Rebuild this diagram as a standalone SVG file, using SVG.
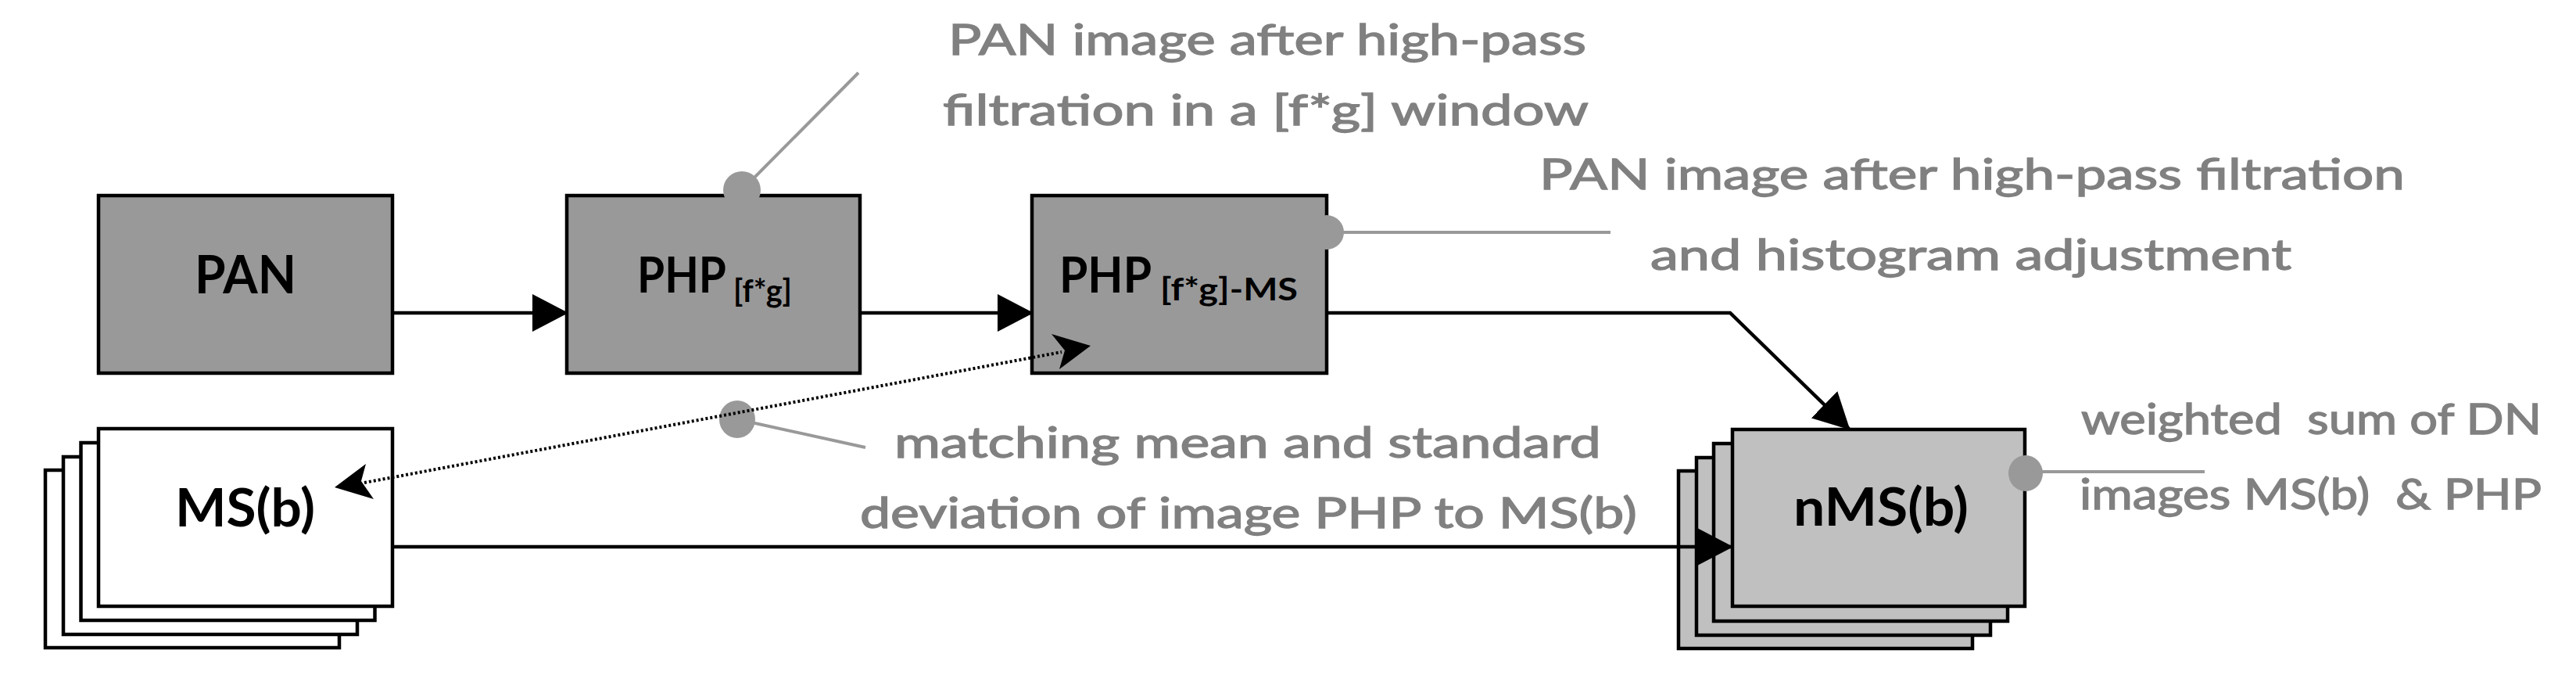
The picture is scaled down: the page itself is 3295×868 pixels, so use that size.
<svg xmlns="http://www.w3.org/2000/svg" width="3295" height="868" viewBox="0 0 3295 868">
<style>
.box{fill:#999999;stroke:#000;stroke-width:4.5}
.wbox{fill:#ffffff;stroke:#000;stroke-width:4.5}
.lbox{fill:#c0c0c0;stroke:#000;stroke-width:4.5}
.lbl{font-family:Lato,"Liberation Sans",sans-serif;font-weight:bold;fill:#000;font-size:66px}
.main{font-size:63px}
.sub{font-size:40px}
.note{font-family:Lato,"Liberation Sans",sans-serif;fill:#808080;stroke:#808080;stroke-width:1.3;font-size:54px;white-space:pre}
.cl{stroke:#999999;stroke-width:4;fill:none}
.cd{fill:#999999}
.conn{stroke:#000;stroke-width:4.5;fill:none}
.dot{stroke:#000;stroke-width:4;fill:none;stroke-dasharray:3 3}
</style>
<defs>
<marker id="tri" markerUnits="userSpaceOnUse" viewBox="0 0 46 48" refX="44" refY="24" markerWidth="46" markerHeight="48" orient="auto">
<path d="M0,0 L46,24 L0,48 z" fill="#000"/>
</marker>
</defs>

<g id="node-pan">
<rect class="box" x="126" y="250" width="376" height="227"/>
<text class="lbl" x="249" y="375" textLength="130" lengthAdjust="spacingAndGlyphs">PAN</text>
</g>

<g id="node-php">
<rect class="box" x="725" y="250" width="375" height="227"/>
<text class="lbl"><tspan class="main" x="815" y="374" textLength="114" lengthAdjust="spacingAndGlyphs">PHP</tspan><tspan class="sub" x="938" y="386" textLength="75" lengthAdjust="spacingAndGlyphs">[f*g]</tspan></text>
</g>

<g id="node-phpms">
<rect class="box" x="1320" y="250" width="377" height="227"/>
<text class="lbl"><tspan class="main" x="1355" y="374" textLength="118" lengthAdjust="spacingAndGlyphs">PHP</tspan><tspan class="sub" x="1484" y="384" textLength="176" lengthAdjust="spacingAndGlyphs">[f*g]-MS</tspan></text>
</g>

<g id="node-ms">
<rect class="wbox" x="58" y="601" width="376" height="227"/>
<rect class="wbox" x="81" y="584" width="376" height="227"/>
<rect class="wbox" x="103.5" y="566" width="376" height="227"/>
<rect class="wbox" x="126" y="548" width="376" height="227"/>
<text class="lbl" x="224" y="673" textLength="179" lengthAdjust="spacingAndGlyphs">MS(b)</text>
</g>

<g id="node-nms">
<rect class="lbox" x="2147" y="602" width="376" height="227"/>
<rect class="lbox" x="2170" y="585" width="376" height="227"/>
<rect class="lbox" x="2192" y="567" width="376" height="227"/>
<rect class="lbox" x="2216" y="549" width="374" height="226"/>
<text class="lbl" x="2294" y="672" textLength="224" lengthAdjust="spacingAndGlyphs">nMS(b)</text>
</g>

<g id="callout-php">
<line class="cl" x1="949" y1="243" x2="1098" y2="93" stroke-width="3.5"/>
<circle class="cd" cx="949" cy="243" r="24"/>
<text class="note" x="1213" y="70" textLength="816" lengthAdjust="spacingAndGlyphs">PAN image after high-pass</text>
<text class="note" x="1206" y="160" textLength="826" lengthAdjust="spacingAndGlyphs">filtration in a [f*g] window</text>
</g>

<g id="callout-phpms">
<line class="cl" x1="1697" y1="297" x2="2060" y2="297"/>
<circle class="cd" cx="1697" cy="297" r="22"/>
<text class="note" x="1969" y="242" textLength="1107" lengthAdjust="spacingAndGlyphs">PAN image after high-pass filtration</text>
<text class="note" x="2111" y="345" textLength="820" lengthAdjust="spacingAndGlyphs">and histogram adjustment</text>
</g>

<g id="callout-match">
<line class="cl" x1="943" y1="536" x2="1107" y2="572"/>
<ellipse class="cd" cx="943" cy="536" rx="23" ry="24"/>
<text class="note" x="1144" y="585" textLength="904" lengthAdjust="spacingAndGlyphs">matching mean and standard</text>
<text class="note" x="1100" y="675" textLength="994" lengthAdjust="spacingAndGlyphs">deviation of image PHP to MS(b)</text>
</g>

<g id="callout-nms">
<line class="cl" x1="2591" y1="603" x2="2820" y2="603"/>
<ellipse class="cd" cx="2591" cy="605" rx="22" ry="23"/>
<text class="note" x="2662" y="555" textLength="589" lengthAdjust="spacingAndGlyphs">weighted  sum of DN</text>
<text class="note" x="2660" y="651" textLength="591" lengthAdjust="spacingAndGlyphs">images MS(b)  &amp; PHP</text>
</g>

<g id="connectors">
<line class="conn" x1="502" y1="400" x2="725" y2="400" marker-end="url(#tri)"/>
<line class="conn" x1="1100" y1="400" x2="1320" y2="400" marker-end="url(#tri)"/>
<polyline class="conn" points="1697,400 2213,400 2365,548" marker-end="url(#tri)"/>
<line class="conn" x1="502" y1="699" x2="2215" y2="699" marker-end="url(#tri)"/>
<line class="dot" x1="466" y1="617" x2="1358" y2="450"/>
<path d="M428,623 L468,593 L462,615 L478,638 z" fill="#000"/>
<path d="M1395,442 L1345,427 L1362,448 L1355,472 z" fill="#000"/>
</g>
</svg>
